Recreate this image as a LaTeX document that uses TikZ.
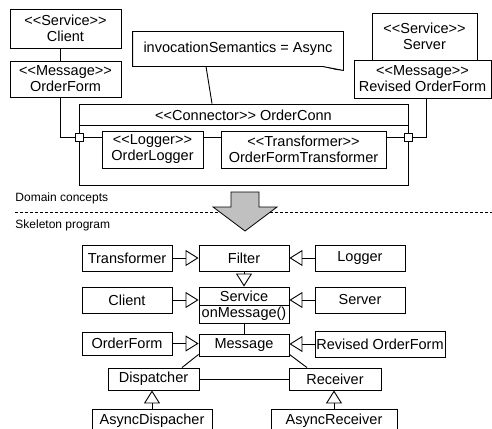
\documentclass[tikz,border=0pt]{standalone}
\usepackage{fontspec}
\setmainfont[Ligatures=TeXOff]{Liberation Sans}
\usetikzlibrary{arrows.meta,calc}
\definecolor{arrowgray}{RGB}{192,192,192}
\begin{document}
\begin{tikzpicture}[x=1pt,y=-1pt,line width=0.9pt,
  box/.style={draw,rectangle,inner sep=0pt,align=center,font=\fontsize{14.5}{16}\selectfont},
  txt/.style={inner sep=0pt,align=center,font=\fontsize{14.5}{16}\selectfont},
  small/.style={inner sep=0pt,anchor=west,font=\fontsize{12}{14}\selectfont},
  port/.style={draw,fill=white,rectangle,inner sep=0pt,minimum width=8pt,minimum height=8pt},
  gen/.style={-{Triangle[open,length=13pt,width=16pt,line width=0.9pt]}},
  sep/.style={line width=0.7pt,dash pattern=on 3pt off 2pt}]
\path[use as bounding box] (0,0) rectangle (492,428);
\clip (0,0) rectangle (492,428);

% ---------- top part: domain concepts ----------
\node[box,minimum width=111pt,minimum height=39pt] (cli) at (65.5,28.5) {<<Service>>\\Client};
\node[box,minimum width=111pt,minimum height=36pt] (ofm) at (65.5,79) {<<Message>>\\OrderForm};
\node[box,minimum width=105pt,minimum height=47pt] (srv) at (424.5,36.5) {<<Service>>\\Server};
\node[box,minimum width=137pt,minimum height=38pt] (rof) at (422.5,79) {<<Message>>\\Revised OrderForm};

% note
\node[txt,minimum width=210pt,minimum height=34pt] (note) at (238,49) {invocationSemantics = Async};
\draw (note.north west) -- (note.north east) -- ([yshift=-4pt]note.south east)
      -- ([xshift=-21pt]note.south east) -- (note.south west) -- cycle;
\fill ([xshift=-21pt]note.south east) -- ([xshift=-7pt,yshift=-3.5pt]note.south east)
      -- ([yshift=-4pt]note.south east) -- cycle;

% connector
\node[draw,rectangle,inner sep=0pt,minimum width=329pt,minimum height=81pt] (conn) at (243.5,144.5) {};
\draw (conn.west |- 0,125) -- (conn.east |- 0,125);
\node[txt] (connhead) at (243.5,115) {<<Connector>> OrderConn};
\node[box,minimum width=101pt,minimum height=37pt] (lg) at (152.5,149.5) {<<Logger>>\\OrderLogger};
\node[box,minimum width=165pt,minimum height=37pt] (tf) at (303.5,149.5) {<<Transformer>>\\OrderFormTransformer};
\node[port] (p1) at (79,137) {};
\node[port] (p2) at (408,137) {};

\draw ([xshift=-5.5pt]cli.south) -- ([xshift=-5.5pt]ofm.north);
\draw ([xshift=-5.5pt]ofm.south) |- (p1.west);
\draw (p1.east) -- (lg.west |- p1);
\draw (lg.east |- p1) -- (tf.west |- p1);
\draw (tf.east |- p1) -- (p2.west);
\draw (p2.east) -| ([xshift=3.5pt]rof.south);
\draw ([xshift=-32pt]note.south) -- ([xshift=-31.5pt]conn.north);

% ---------- separator ----------
\node[small] (dom) at (15,198) {Domain concepts};
\coordinate (sepL) at (15,212);
\coordinate (sepR) at (492,212);
\draw[sep] (sepL) -- (sepR);
\node[small] (skel) at (15,225) {Skeleton program};
\draw[fill=arrowgray,line width=0.8pt] (231,192) -- (259,192) -- (259,207) -- (277,207)
      -- (245,231) -- (213,207) -- (231,207) -- cycle;

% ---------- bottom part: skeleton program ----------
\node[box,minimum width=90pt,minimum height=26pt] (tr) at (127,258) {Transformer};
\node[box,minimum width=90pt,minimum height=26pt] (fi) at (244,258) {Filter};
\node[box,minimum width=90pt,minimum height=26pt] (lo) at (360,258) {Logger};

\node[box,minimum width=90pt,minimum height=26pt] (cl2) at (127,300) {Client};
\node[draw,rectangle,inner sep=0pt,minimum width=90pt,minimum height=36pt] (sv) at (244,305) {};
\draw (sv.west) -- (sv.east);
\node[txt] (svA) at (244,296) {Service};
\node[txt] (svB) at (244,314) {onMessage()};
\node[box,minimum width=90pt,minimum height=26pt] (se2) at (360,300) {Server};

\node[box,minimum width=90pt,minimum height=23pt] (of2) at (127,343.5) {OrderForm};
\node[box,minimum width=90pt,minimum height=22pt] (ms) at (244,345) {Message};
\node[box,minimum width=130pt,minimum height=26pt] (rof2) at (380,344) {Revised OrderForm};

\node[box,minimum width=91pt,minimum height=22pt] (di) at (153.5,379) {Dispatcher};
\node[box,minimum width=92pt,minimum height=22pt] (re) at (335,379) {Receiver};

\node[box,minimum width=120pt,minimum height=24pt] (ad) at (152,421) {AsyncDispacher};
\node[box,minimum width=126pt,minimum height=24pt] (ar) at (334,421) {AsyncReceiver};

\draw[gen] (tr.east) -- (fi.west);
\draw[gen] (lo.west) -- (fi.east);
\draw[gen] (fi.south) -- (sv.north);
\draw[gen] (cl2.east) -- (sv.west |- cl2.east);
\draw[gen] (se2.west) -- (sv.east |- se2.west);
\draw (sv.south) -- (ms.north);
\draw[gen] (of2.east) -- (ms.west |- of2.east);
\draw[gen] (rof2.west) -- (ms.east |- rof2.west);
\draw ([yshift=2pt]ms.south west) -- ([xshift=28.5pt]di.north);
\draw ([yshift=2pt]ms.south east) -- ([xshift=-28pt]re.north);
\draw (di.east) -- (re.west);
\draw[gen] (ad.north) -- (di.south -| ad.north);
\draw[gen] (ar.north) -- (re.south -| ar.north);
\end{tikzpicture}
\end{document}
